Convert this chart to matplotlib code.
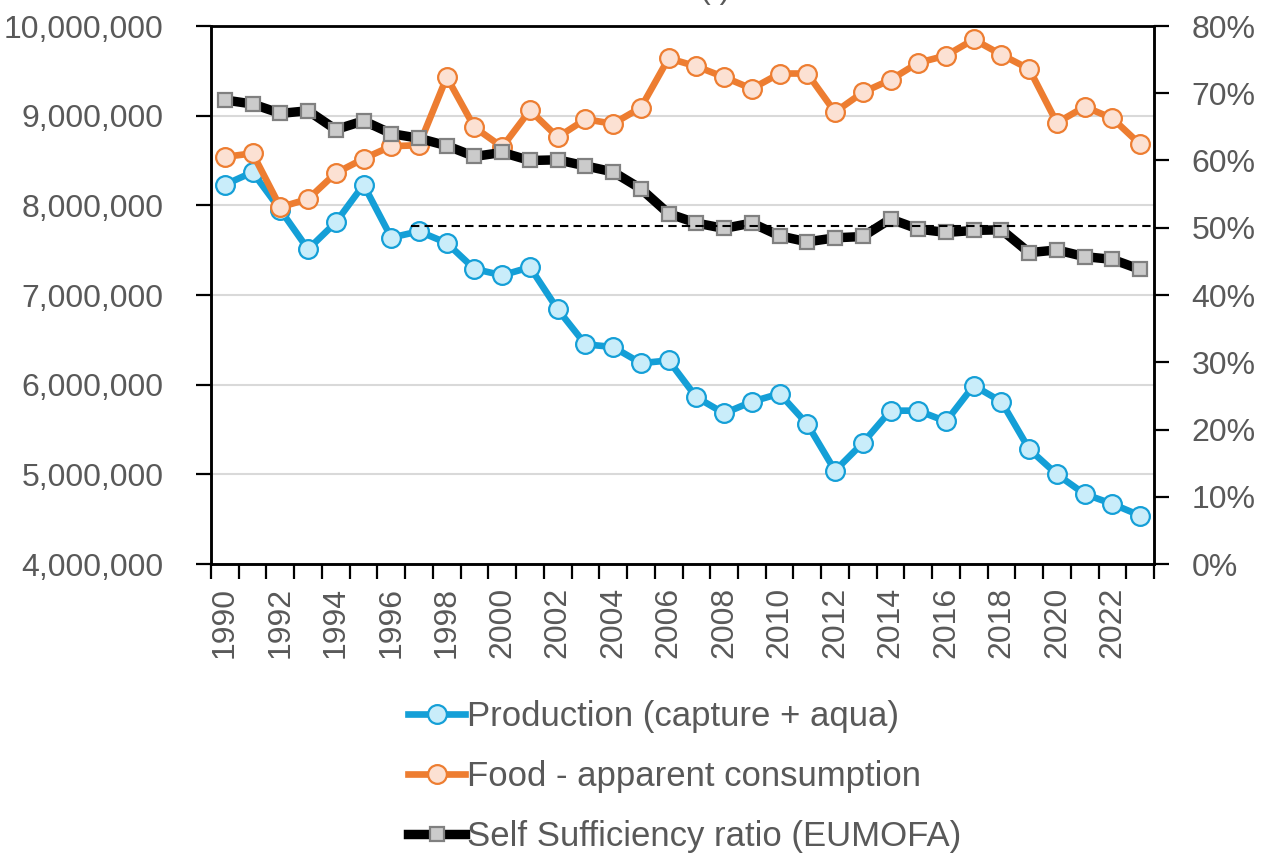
import matplotlib
matplotlib.use("Agg")
import matplotlib.pyplot as plt
from matplotlib.lines import Line2D
import numpy as np

years = list(range(1990, 2024))
production = [8.23, 8.37, 7.95, 7.51, 7.81, 8.23, 7.64, 7.71, 7.58, 7.29,
              7.22, 7.31, 6.84, 6.45, 6.42, 6.24, 6.27, 5.86, 5.68, 5.81,
              5.90, 5.56, 5.04, 5.35, 5.71, 5.71, 5.59, 5.99, 5.81, 5.28,
              5.00, 4.78, 4.67, 4.54]
production = [v * 1e6 for v in production]
food = [8.54, 8.58, 7.98, 8.07, 8.36, 8.52, 8.66, 8.67, 9.43, 8.87,
        8.65, 9.06, 8.76, 8.96, 8.91, 9.09, 9.64, 9.55, 9.43, 9.30,
        9.47, 9.47, 9.04, 9.26, 9.40, 9.59, 9.67, 9.85, 9.68, 9.52,
        8.92, 9.10, 8.97, 8.68]
food = [v * 1e6 for v in food]
ssr = [69.0, 68.4, 67.0, 67.4, 64.6, 65.9, 64.0, 63.3, 62.2, 60.6,
       61.2, 60.0, 60.1, 59.2, 58.3, 55.8, 52.1, 50.7, 49.9, 50.7,
       48.8, 47.9, 48.5, 48.7, 51.3, 49.8, 49.3, 49.6, 49.7, 46.3,
       46.7, 45.7, 45.3, 43.8]
ref_level = 50.3
ref_start_year = 1997

left_ticks = [4e6, 5e6, 6e6, 7e6, 8e6, 9e6, 10e6]
right_ticks = [0, 10, 20, 30, 40, 50, 60, 70, 80]

FONT = ['Liberation Sans', 'DejaVu Sans']
plt.rcParams['font.family'] = FONT
TXT = '#595959'
FS = 23
LFS = 25

fig = plt.figure(figsize=(12.71, 8.55), dpi=100)
ax = fig.add_axes([211/1271, 1 - 564/855, (1154-211)/1271, (564-26)/855])
ax2 = ax.twinx()

x = np.arange(len(years))

blue = '#149FD7'
orange = '#ED7D31'

ax.plot(x, production, color=blue, lw=4.8, marker='o', ms=13.5,
        mfc='#C9EDFA', mec=blue, mew=1.6, zorder=3,
        label='Production (capture + aqua)')
ax.plot(x, food, color=orange, lw=4.8, marker='o', ms=13.5,
        mfc='#FCE1D3', mec=orange, mew=1.6, zorder=4,
        label='Food - apparent consumption')

ax.set_ylim(4e6, 10e6)
ax.set_xlim(-0.5, len(years) - 0.5)
ax.set_yticks(left_ticks)
ax.set_yticklabels([f'{int(v):,}' for v in left_ticks])
ax.yaxis.grid(True, color='#D9D9D9', lw=1.5)
ax.set_axisbelow(True)

ax2.set_ylim(0, 80)
ax2.set_yticks(right_ticks)
ax2.set_yticklabels([f'{v}%' for v in right_ticks])
ax2.plot(x, ssr, color='black', lw=6.8, marker='s', ms=10,
         mfc='#CBCBCB', mec='#808080', mew=1.6, zorder=5,
         label='Self Sufficiency ratio (EUMOFA)')
i0 = years.index(ref_start_year)
ax2.plot([x[i0] - 0.3, len(years) - 0.5], [ref_level, ref_level], color='black',
         lw=1.5, ls=(0, (4, 2.5)), zorder=6)

# x ticks at category boundaries, labels every 2 years
ax.set_xticks(np.arange(-0.5, len(years), 1.0))
ax.set_xticklabels([])
ax.set_xticks(x[::2], minor=True)
ax.set_xticklabels([str(y) for y in years[::2]], minor=True, rotation=90)
ax.tick_params(axis='x', which='major', length=11, width=1.6, direction='out', color='black')
ax.tick_params(axis='x', which='minor', length=0, pad=16.5, labelsize=FS, labelcolor=TXT)
ax.tick_params(axis='y', length=11, width=1.6, pad=23, labelsize=FS, labelcolor=TXT, color='black')
ax2.tick_params(axis='y', length=11, width=1.6, pad=16, labelsize=FS, labelcolor=TXT, color='black')

for a in (ax, ax2):
    for s in a.spines.values():
        s.set_linewidth(1.8)
        s.set_color('black')
ax.spines['top'].set_color('#333333')

# partially visible title at top
fig.text(715/1271, 1 - 5/855, '(t)', ha='center', va='bottom', fontsize=FS, color=TXT)

handles = [
    Line2D([], [], color=blue, lw=4.8, marker='o', ms=13.5, mfc='#C9EDFA', mec=blue, mew=1.6),
    Line2D([], [], color=orange, lw=4.8, marker='o', ms=13.5, mfc='#FCE1D3', mec=orange, mew=1.6),
    Line2D([], [], color='black', lw=6.8, marker='s', ms=10, mfc='#CBCBCB', mec='#808080', mew=1.6),
]
labels = ['Production (capture + aqua)', 'Food - apparent consumption',
          'Self Sufficiency ratio (EUMOFA)']
leg = fig.legend(handles, labels, loc='upper left', bbox_to_anchor=(408/1271, 1 - 700/855),
                 frameon=False, fontsize=LFS, handlelength=1.65, handletextpad=0.05,
                 labelspacing=0.78, borderaxespad=0, borderpad=0)
for t in leg.get_texts():
    t.set_color(TXT)

fig.savefig('out.png', dpi=100)
